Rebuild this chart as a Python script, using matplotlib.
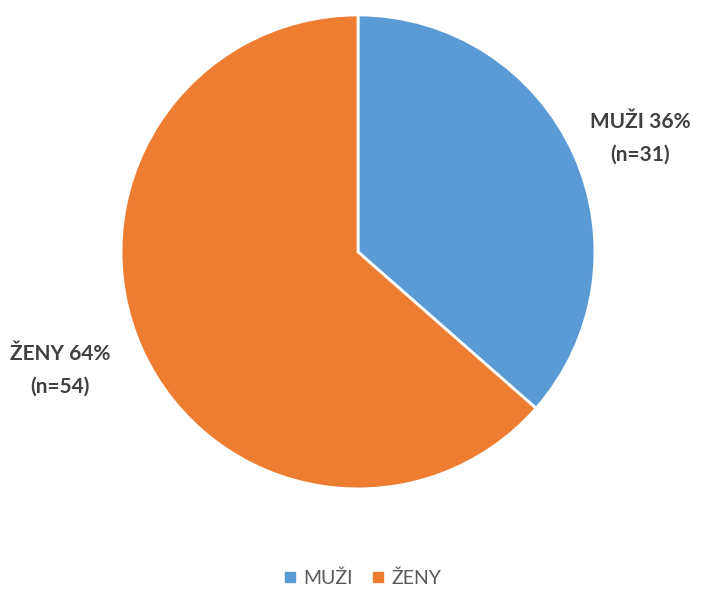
import matplotlib.pyplot as plt
from matplotlib.lines import Line2D

labels = ['MUŽI', 'ŽENY']
counts = [31, 54]
colors = ['#5b9bd5', '#ed7d31']

plt.rcParams['font.family'] = ['Lato', 'DejaVu Sans']

fig = plt.figure(figsize=(7.09, 5.90), dpi=100)
ax = fig.add_axes([0.1707, 0.1713, 0.6685, 0.8034])

total = sum(counts)
ax.pie(counts, colors=colors, startangle=90, counterclock=False, radius=1,
       wedgeprops=dict(edgecolor='white', linewidth=2))
ax.set_xlim(-1.0, 1.0)
ax.set_ylim(-1.0, 1.0)

# data labels beside each slice
label_pos = [(1.19, 0.48), (-1.257, -0.50)]
for name, n, (x, y) in zip(labels, counts, label_pos):
    pct = round(100 * n / total)
    ax.text(x, y, f'{name} {pct}%\n(n={n})', ha='center', va='center',
            fontsize=15, fontweight='bold', color='#404040', linespacing=1.75)

handles = [Line2D([], [], marker='s', linestyle='none', markersize=7,
                  markerfacecolor=c, markeredgecolor=c) for c in colors]
fig.legend(handles, labels, loc='center', bbox_to_anchor=(0.51, 0.02),
           ncol=2, frameon=False, fontsize=14, labelcolor='#595959',
           handlelength=0.8, handletextpad=0.3, columnspacing=0.9)

fig.savefig('out.png', dpi=100)
